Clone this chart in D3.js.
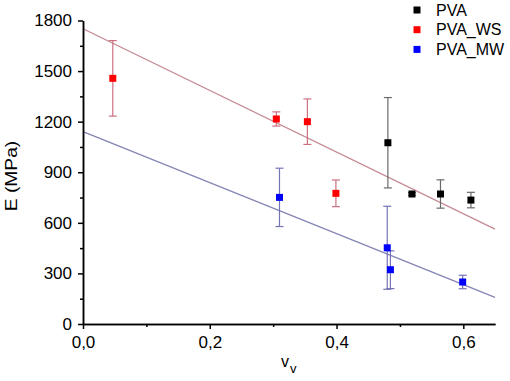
<!DOCTYPE html>
<html>
<head>
<meta charset="utf-8">
<script src="https://cdn.jsdelivr.net/npm/d3@7/dist/d3.min.js"></script>
<style>
  html, body { margin: 0; padding: 0; background: #fff; }
  svg text { font-family: "Liberation Sans", Arial, sans-serif; }
</style>
</head>
<body>
<div id="chart"></div>
<script>
// series names + colours for the legend
var seriesNames = ["PVA", "PVA_WS", "PVA_MW"];

// PVA (black)
var pvaX = [0.481, 0.519, 0.564, 0.612];
var pvaY = [1075, 771, 771, 735];
var pvaErr = [268, 8, 84, 46];

// PVA_WS (red)
var wsX = [0.047, 0.305, 0.354, 0.399];
var wsY = [1457, 1216, 1200, 775];
var wsErr = [224, 42, 135, 79];

// PVA_MW (blue)
var mwX = [0.310, 0.480, 0.485, 0.599];
var mwY = [751, 452, 322, 249];
var mwErr = [173, 246, 112, 40];

// linear fits, value at x = fitX[0] and fitX[1]
var fitX = [0, 0.65];
var wsFitY = [1751, 563];
var mwFitY = [1141, 158];

// ticks
var yTicks = [0, 300, 600, 900, 1200, 1500, 1800];
var yMinor = [150, 450, 750, 1050, 1350, 1650];
var xTicks = [0, 0.2, 0.4, 0.6];
var xMinor = [0.1, 0.3, 0.5];

function init() {

	var w = 510;
	var h = 381;

	var xScale = d3.scaleLinear()
					.domain([0, 0.65])
					.range([83, 495]);

	var yScale = d3.scaleLinear()
					.domain([0, 1800])
					.range([324, 20.5]);

	var svg = d3.select("#chart")
			.append("svg")
			.attr("width", w)
			.attr("height", h);

	//Fit lines
	var fits = [
		{y: wsFitY, color: "#c58a93"},
		{y: mwFitY, color: "#8585b5"}
	];
	fits.forEach(function(f) {
		svg.append("line")
			.attr("x1", xScale(fitX[0]))
			.attr("y1", yScale(f.y[0]))
			.attr("x2", xScale(fitX[1]))
			.attr("y2", yScale(f.y[1]))
			.attr("stroke", f.color)
			.attr("stroke-width", 1.3);
	});

	var groups = [
		{x: pvaX, y: pvaY, e: pvaErr, color: "#000000", bar: "#6a6a6a"},
		{x: wsX, y: wsY, e: wsErr, color: "#ff0000", bar: "#cc7080"},
		{x: mwX, y: mwY, e: mwErr, color: "#0000ff", bar: "#7474b4"}
	];

	groups.forEach(function(g) {
		var pts = g.x.map(function(d, i) {
			return {x: d, y: g.y[i], e: g.e[i]};
		});
		var eb = svg.append("g")
			.attr("stroke", g.bar)
			.attr("stroke-width", 1.2);

		//Error bars
		eb.selectAll(".v")
			.data(pts)
			.enter()
			.append("line")
			.attr("x1", function(d) { return xScale(d.x); })
			.attr("x2", function(d) { return xScale(d.x); })
			.attr("y1", function(d) { return yScale(d.y + d.e); })
			.attr("y2", function(d) { return yScale(d.y - d.e); });
		[1, -1].forEach(function(s) {
			eb.selectAll(".c" + s)
				.data(pts)
				.enter()
				.append("line")
				.attr("x1", function(d) { return xScale(d.x) - 4; })
				.attr("x2", function(d) { return xScale(d.x) + 4; })
				.attr("y1", function(d) { return yScale(d.y + s * d.e); })
				.attr("y2", function(d) { return yScale(d.y + s * d.e); });
		});

		//Markers
		svg.append("g")
			.selectAll("rect")
			.data(pts)
			.enter()
			.append("rect")
			.attr("x", function(d) { return xScale(d.x) - 3.5; })
			.attr("y", function(d) { return yScale(d.y) - 3.5; })
			.attr("width", 7)
			.attr("height", 7)
			.attr("fill", g.color);
	});

	//Axes
	var fmtX = function(d) { return d3.format(".1f")(d).replace(".", ","); };

	var xAxis = d3.axisBottom(xScale)
				.tickValues(xTicks)
				.tickFormat(fmtX)
				.tickSize(5)
				.tickSizeOuter(0)
				.tickPadding(7);
	var xMinorAxis = d3.axisBottom(xScale)
				.tickValues(xMinor)
				.tickFormat("")
				.tickSize(3)
				.tickSizeOuter(0);

	var yAxis = d3.axisLeft(yScale)
				.tickValues(yTicks)
				.tickFormat(d3.format("d"))
				.tickSize(5)
				.tickSizeOuter(0)
				.tickPadding(6);
	var yMinorAxis = d3.axisLeft(yScale)
				.tickValues(yMinor)
				.tickFormat("")
				.tickSize(3)
				.tickSizeOuter(0);

	svg.append("g").attr("transform", "translate(0,324)").call(xMinorAxis);
	svg.append("g").attr("transform", "translate(0,324)").call(xAxis);
	svg.append("g").attr("transform", "translate(83,0)").call(yMinorAxis);
	svg.append("g").attr("transform", "translate(83,0)").call(yAxis);

	svg.selectAll(".domain, .tick line")
		.attr("stroke", "#000")
		.attr("stroke-width", 1.5);
	svg.selectAll(".tick text")
		.attr("font-size", "17px")
		.attr("font-family", "'Liberation Sans', Arial, sans-serif")
		.attr("fill", "#000");

	//Axis titles
	var yTitle = svg.append("text")
		.attr("transform", "translate(17,176) rotate(-90)")
		.attr("text-anchor", "middle")
		.attr("font-size", "16px")
		.text("E (MPa)");
	yTitle.attr("textLength", yTitle.node().getComputedTextLength() * 1.2)
		.attr("lengthAdjust", "spacingAndGlyphs");

	var xTitle = svg.append("text")
		.attr("x", 281)
		.attr("y", 367)
		.attr("font-size", "16px");
	xTitle.append("tspan").text("v");
	xTitle.append("tspan")
		.attr("dx", 1)
		.attr("dy", 6)
		.attr("font-size", "13px")
		.text("v");

	//Legend
	var legend = svg.append("g");
	legend.selectAll("rect")
		.data(seriesNames)
		.enter()
		.append("rect")
		.attr("x", 413.5)
		.attr("y", function(d, i) { return 6.5 + i * 19.7; })
		.attr("width", 7)
		.attr("height", 7)
		.attr("fill", function(d, i) { return groups[i].color; });
	legend.selectAll("text")
		.data(seriesNames)
		.enter()
		.append("text")
		.attr("x", 436)
		.attr("y", function(d, i) { return 15.5 + i * 19.7; })
		.attr("font-size", "16px")
		.text(function(d) { return d; });
}

window.onload = init;
</script>
</body>
</html>
